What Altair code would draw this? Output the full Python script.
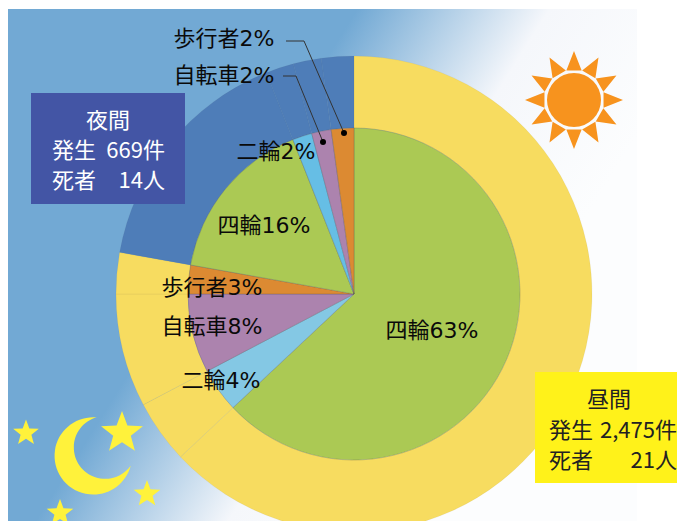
import math
import altair as alt
import pandas as pd

# ---- data ----
segments = ["四輪(昼)", "二輪(昼)", "自転車(昼)", "歩行者(昼)", "四輪(夜)", "二輪(夜)", "自転車(夜)", "歩行者(夜)"]
shares = [63.0, 4.3, 7.7, 2.8, 16.2, 1.9, 1.9, 2.2]
inner_colors = ["#ABC954", "#84C8E4", "#AC83AE", "#DC8A32", "#ABC954", "#66BEE5", "#AC83AE", "#DC8A32"]
outer_colors = ["#F7DC60"] * 4 + ["#4E7DB8"] * 4

df = pd.DataFrame({"seg": segments, "share": shares, "idx": list(range(len(segments)))})

# page geometry (chart origin is 8px inside the page)
OX, OY = 8, 8
CX, CY = 354 - OX, 294 - OY
FONT = "DejaVu Sans, Noto Sans CJK JP"
CJK = "Noto Sans CJK JP"

one = alt.Data(values=[{"a": 1}])


def px(x):
    return alt.value(x - OX)


def py(y):
    return alt.value(y - OY)


def ring(colors, outer, inner, stroke_op):
    return alt.Chart(alt.Data(values=df.to_dict("records"))).mark_arc(
        outerRadius=outer, innerRadius=inner, stroke="#555555", strokeWidth=0.5, strokeOpacity=stroke_op
    ).encode(
        theta=alt.Theta("share:Q", stack=True, scale=alt.Scale(domain=[0, 100], range=[0, 2 * math.pi])),
        order=alt.Order("idx:Q"),
        color=alt.Color("seg:N", scale=alt.Scale(domain=segments, range=colors), legend=None),
        x=alt.value(CX),
        y=alt.value(CY),
    )


def rect(x0, y0, x1, y1, color):
    return alt.Chart(one).mark_rect(color=color).encode(x=px(x0), x2=px(x1), y=py(y0), y2=py(y1))


def text(s, x, y, size=22, color="#0A0A0A", align="center", font=FONT):
    return alt.Chart(one).mark_text(align=align, baseline="middle", fontSize=size, color=color, font=font).encode(
        x=px(x), y=py(y), text=alt.value(s)
    )


def seg(x0, y0, x1, y1, color="#333333", w=1):
    return alt.Chart(one).mark_rule(color=color, strokeWidth=w).encode(x=px(x0), x2=px(x1), y=py(y0), y2=py(y1))


def symbol(path, x, y, R, color):
    return alt.Chart(one).mark_point(shape=path, size=4 * R * R, filled=True, color=color, opacity=1, strokeWidth=0).encode(
        x=px(x), y=py(y)
    )


def star_path():
    pts = []
    for k in range(10):
        r = 1 if k % 2 == 0 else 0.42
        a = math.radians(-90 + 36 * k)
        pts.append(f"{r * math.cos(a):.4f},{r * math.sin(a):.4f}")
    return "M" + "L".join(pts) + "Z"


def rays_path():
    p = ""
    r0 = 30.5 / 49
    for k in range(12):
        a = math.radians(-90 + 30 * k)
        h = math.radians(14.5)
        p += (
            f"M{r0 * math.cos(a - h):.4f},{r0 * math.sin(a - h):.4f}"
            f"L{math.cos(a):.4f},{math.sin(a):.4f}"
            f"L{r0 * math.cos(a + h):.4f},{r0 * math.sin(a + h):.4f}Z"
        )
    return p


# crescent: outer circle centred on the symbol, tips and inner radius from the picture
moon_path = "M0.147,-1 A1,1 0 1 0 1.026,0.25 A0.81,0.81 0 1 1 0.147,-1Z"

bg = alt.Chart(one).mark_rect(
    color=alt.LinearGradient(
        gradient="linear",
        x1=0.44, y1=0.226, x2=0.894, y2=0.458,
        stops=[
            alt.GradientStop(color="#72A9D4", offset=0),
            alt.GradientStop(color="#F5F7FB", offset=0.534),
            alt.GradientStop(color="#FCFDFE", offset=1),
        ],
    )
).encode(x=px(8), x2=px(637), y=py(9), y2=py(521))

layers = [
    bg,
    ring(outer_colors, 238, 166, 0.12),
    ring(inner_colors, 166, 0, 0.5),
    # leader lines
    seg(286, 41, 304, 41), seg(304, 41, 344, 133),
    seg(283, 76, 296, 76), seg(296, 76, 323, 142),
    symbol("circle", 344, 133, 3, "#000000"),
    symbol("circle", 323, 142, 3, "#000000"),
    # labels
    text("歩行者2%", 224, 39),
    text("自転車2%", 224, 76),
    text("二輪2%", 276, 152),
    text("四輪16%", 264, 226),
    text("歩行者3%", 212, 288),
    text("自転車8%", 212, 327),
    text("二輪4%", 221, 381),
    text("四輪63%", 432, 331),
    # night box
    rect(31, 93, 185, 204, "#4355A5"),
    text("夜間", 108, 121, 22, "#FFFFFF", "center", CJK),
    text("発生", 52, 151, 22, "#FFFFFF", "left", CJK),
    text("669件", 165, 151, 22, "#FFFFFF", "right", CJK),
    text("死者", 52, 181, 22, "#FFFFFF", "left", CJK),
    text("14人", 165, 181, 22, "#FFFFFF", "right", CJK),
    # day box
    rect(535, 372, 677, 483, "#FFF21A"),
    text("昼間", 609, 400, 22, "#222222", "center", CJK),
    text("発生", 549, 431, 22, "#222222", "left", CJK),
    text("2,475件", 677, 431, 22, "#222222", "right", CJK),
    text("死者", 549, 461, 22, "#222222", "left", CJK),
    text("21人", 677, 461, 22, "#222222", "right", CJK),
    # sun
    symbol(rays_path(), 574, 100, 49, "#F7931E"),
    symbol("circle", 574, 100, 27, "#F7931E"),
    # moon and stars
    symbol(moon_path, 91, 456, 38.7, "#FFF23B"),
    symbol(star_path(), 26, 433, 13.5, "#FFF23B"),
    symbol(star_path(), 122, 433, 22, "#FFF23B"),
    symbol(star_path(), 147, 494, 14, "#FFF23B"),
    symbol(star_path(), 60, 513, 14, "#FFF23B"),
]

chart = alt.layer(*layers).resolve_scale(color="independent").properties(
    width=669, height=513, padding=0, autosize=alt.AutoSizeParams(type="none")
).configure_view(stroke=None)

chart.save("out.html", embed_options={"renderer": "svg", "actions": False})
